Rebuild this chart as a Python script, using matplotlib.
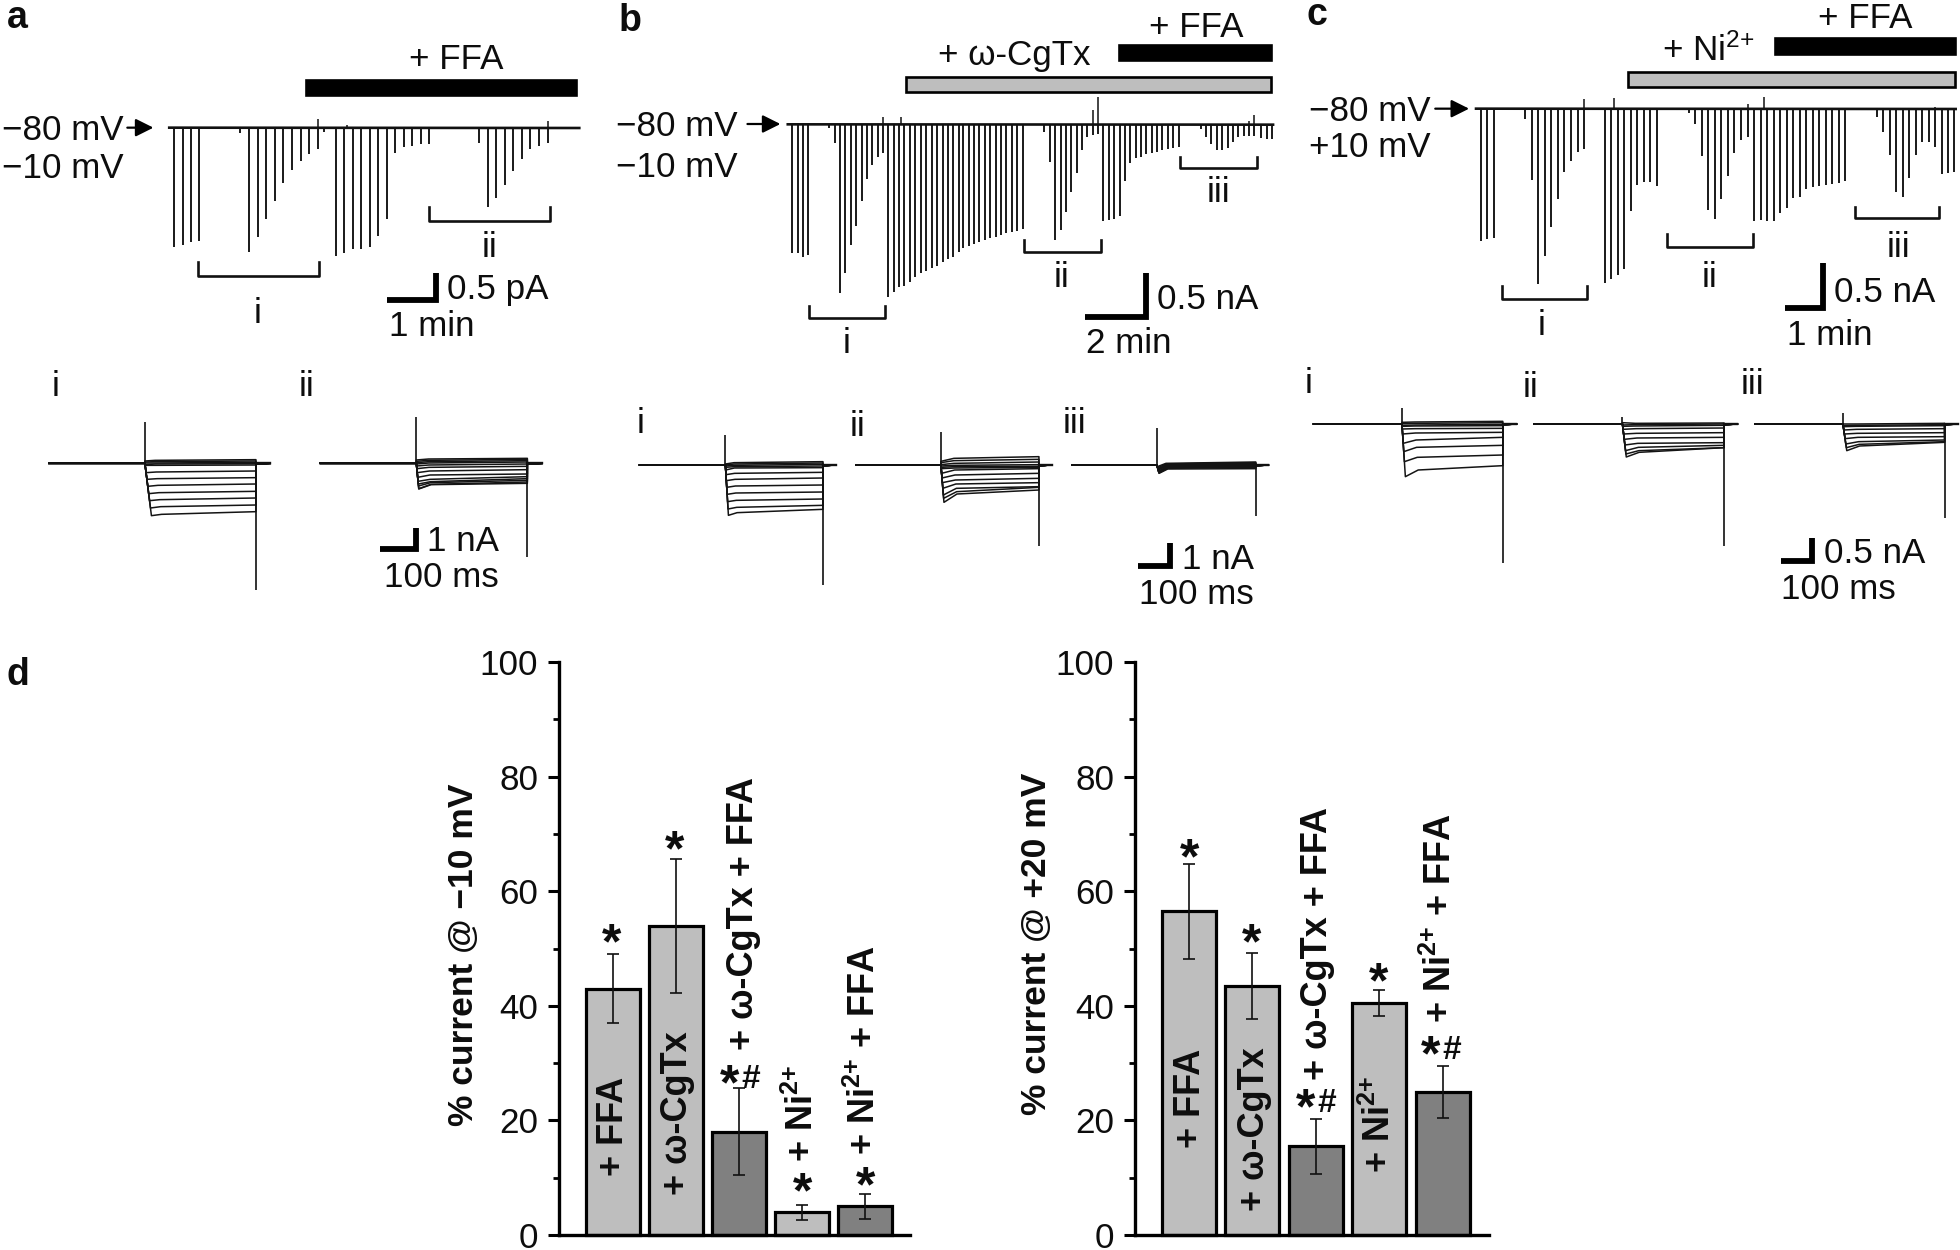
import matplotlib
matplotlib.use("Agg")
import matplotlib.pyplot as plt
from matplotlib.patches import Rectangle
from matplotlib.ticker import MultipleLocator

plt.rcParams['font.family'] = ['Liberation Sans', 'DejaVu Sans']
plt.rcParams['mathtext.fontset'] = 'custom'
plt.rcParams['mathtext.rm'] = 'Liberation Sans'
plt.rcParams['mathtext.bf'] = 'Liberation Sans:bold'
plt.rcParams['mathtext.default'] = 'regular'

# ---------- data ----------
# bar charts (panel d)
conditions = ['+ FFA', '+ ω-CgTx', '+ ω-CgTx + FFA', '+ Ni$^{2{+}}$', '+ Ni$^{2{+}}$ + FFA']
m10_mean = [43, 54, 18, 4, 5]
m10_err = [6, 11.7, 7.6, 1.3, 2.2]
p20_mean = [56.5, 43.5, 15.5, 40.5, 25]
p20_err = [8.3, 5.8, 4.8, 2.2, 4.5]
m10_colors = ['#BEBEBE', '#BEBEBE', '#808080', '#BEBEBE', '#808080']
m10_hash = [False, False, True, False, False]
p20_hash = [False, False, True, False, True]

# time courses: sweep time, trough of the current (raw read-out units)
a_t = [440, 462, 483, 504, 608, 630, 652, 673, 695, 716, 738, 760, 781, 803, 820, 849, 871, 892, 914, 936, 957, 978,
       1000, 1021, 1043, 1065, 1086, 1212, 1234, 1255, 1277, 1298, 1320, 1341, 1363, 1385]
a_i = [742, 735, 727, 723, 398, 757, 710, 657, 602, 550, 510, 482, 463, 447, 395, 767, 758, 748, 748, 740, 708, 658,
       459, 440, 437, 432, 432, 428, 620, 595, 555, 512, 476, 447, 437, 428]
a_up_t = [803, 878, 1385]
a_up_i = [358, 375, 362]

b_t = [443, 456, 468, 480, 528, 541, 553, 566, 578, 590, 603, 615, 628, 640, 652, 665, 677, 690, 702, 715, 727, 740,
       752, 765, 777, 790, 802, 815, 827, 838, 850, 863, 875, 888, 900, 912, 925, 937, 950, 962, 975, 1024, 1037,
       1049, 1062, 1074, 1087, 1099, 1111, 1123, 1136, 1148, 1161, 1173, 1186, 1198, 1210, 1222, 1235, 1247, 1260,
       1272, 1285, 1297, 1310, 1322, 1335, 1385, 1397, 1410, 1422, 1435, 1447, 1459, 1472, 1484, 1497, 1509, 1525,
       1537, 1550]
b_i = [760, 758, 770, 765, 385, 428, 878, 818, 735, 677, 603, 538, 495, 470, 458, 890, 876, 860, 858, 845, 832, 820,
       812, 805, 797, 785, 778, 770, 755, 745, 738, 733, 725, 720, 715, 710, 705, 700, 697, 692, 688, 397, 487,
       720, 690, 635, 575, 518, 450, 412, 405, 403, 662, 660, 658, 648, 542, 490, 475, 470, 462,
       458, 455, 450, 447, 443, 442, 388, 410, 432, 450, 450, 445, 425, 412, 408, 408, 408, 415,
       417, 418]
b_up_t = [652, 694, 1136, 1148, 1497, 1509]
b_up_i = [350, 352, 330, 292, 362, 345]

c_t = [463, 478, 493, 566, 580, 596, 611, 626, 641, 656, 671, 686, 701, 749, 764, 779, 794, 809, 824, 839, 854, 869,
       943, 958, 973, 988, 1003, 1018, 1033, 1048, 1063, 1078, 1093, 1108, 1123, 1138, 1153, 1168, 1183, 1198, 1213,
       1228, 1243, 1258, 1273, 1288, 1303, 1377, 1391, 1406, 1421, 1436, 1451, 1466, 1481, 1496, 1511, 1526, 1540, 1554]
c_i = [723, 718, 713, 358, 540, 853, 768, 680, 598, 515, 483, 456, 448, 848, 838, 825, 806, 633, 555, 545, 545, 558,
       338, 372, 468, 630, 658, 597, 528, 458, 420, 410, 664, 660, 662, 662, 640, 625, 595, 590, 566,
       560, 558, 556, 552, 550, 543, 350, 396, 465, 575, 592, 535, 465, 425, 426, 440, 522, 520, 515]
c_up_t = [701, 771, 1078, 1115, 1511]
c_up_i = [298, 295, 312, 292, 320]

# current families: (current at onset, shortly after onset, at end of step)
a1_levels = [(303, 301, 299), (306, 305, 303), (309, 309, 307), (314, 312, 311), (316, 316, 315), (338, 336, 333),
             (358, 356, 353), (379, 376, 372), (401, 398, 394), (422, 419, 414), (444, 440, 435), (467, 463, 455)]
a2_levels = [(300, 297, 295), (304, 301, 298), (308, 305, 302), (312, 309, 306), (318, 315, 312), (326, 322, 319),
             (338, 333, 329), (352, 345, 342), (364, 358, 350), (372, 365, 356), (378, 368, 361), (386, 373, 366),
             (387, 374, 370)]
b1_levels = [(222, 218, 215), (225, 222, 219), (228, 226, 223), (232, 230, 228), (240, 234, 233), (254, 250, 247),
             (272, 268, 264), (292, 288, 285), (313, 309, 306), (335, 331, 327), (357, 352, 346), (376, 368, 358)]
b2_levels = [(214, 205, 200), (218, 212, 208), (224, 220, 216), (228, 226, 224), (232, 230, 229), (236, 234, 232),
             (250, 240, 236), (264, 255, 250), (278, 270, 265), (295, 282, 278), (315, 295, 290), (325, 305, 292),
             (337, 312, 300)]
b3_levels = [(230, 220, 216), (233, 222, 218), (236, 224, 220), (238, 226, 222), (240, 228, 224), (243, 230, 226),
             (245, 232, 228), (247, 233, 230), (249, 235, 232), (250, 237, 236)]
c1_levels = [(187, 186, 184), (191, 190, 188), (196, 195, 193), (199, 198, 197), (207, 206, 205), (222, 219, 217),
             (250, 240, 232), (275, 262, 256), (305, 292, 285), (350, 330, 317)]
c2_levels = [(188, 190, 189), (195, 194, 192), (199, 198, 196), (208, 206, 204), (222, 220, 218), (238, 234, 232),
             (255, 250, 248), (272, 262, 256), (282, 272, 263), (291, 277, 263)]
c3_levels = [(192, 192, 190), (197, 196, 194), (200, 199, 197), (210, 208, 206), (222, 220, 218), (236, 232, 230),
             (252, 245, 240), (263, 253, 245), (272, 258, 247)]

# ---------- figure ----------
W, H = 1960, 1250
FS = 25.2
LETTER_FS = 27
fig = plt.figure(figsize=(W / 100, H / 100), dpi=100, facecolor='white')


def layer(x0, y0, sx, sy):
    """Transparent full-figure axes whose units are read-out units of one panel."""
    ax = fig.add_axes([0, 0, 1, 1])
    ax.set_xlim(-x0 * sx, (W - x0) * sx)
    ax.set_ylim((H - y0) * sy, -y0 * sy)
    ax.axis('off')
    ax.patch.set_alpha(0)
    return ax


def txt(ax, x, y, s, ha='left', weight='normal', size=FS):
    ax.text(x, y, s, ha=ha, va='baseline', fontsize=size, fontweight=weight, color='#0d0d0d')


def sweeps(ax, t, i, base, t_up, i_up, x0, x1):
    ax.vlines(t, base, i, color='#111111', lw=1.35)
    ax.vlines(t_up, base, i_up, color='#111111', lw=1.1)
    ax.plot([x0, x1], [base, base + 1], color='#111111', lw=1.9)


def bracket(ax, x0, x1, top, bottom):
    ax.plot([x0, x0, x1, x1], [top, bottom, bottom, top], color='#111111', lw=1.9, solid_joinstyle='round')


def scalebar(ax, x0, x1, y, top, lw=4.2):
    ax.plot([x0, x1, x1], [y, y, top], color='black', lw=lw, solid_joinstyle='miter', solid_capstyle='butt')


def drug_bar(ax, x0, x1, y0, y1, color):
    ax.add_patch(Rectangle((x0, y0), x1 - x0, y1 - y0, facecolor=color, edgecolor='black', lw=1.9))


def arrow(ax, x0, x1, y):
    ax.annotate('', xy=(x1, y), xytext=(x0, y),
                arrowprops=dict(arrowstyle='-|>', mutation_scale=27, lw=1.6, color='black',
                                shrinkA=0, shrinkB=0))


def family(ax, x_start, x_on, x_off, x_end, base, up, down, levels, dx, knee_dx):
    deepest = max(lv[0] for lv in levels)
    for onset, knee, end in levels:
        frac = max(onset - base, 0) / (deepest - base)
        x_peak = x_on + dx * frac
        ax.plot([x_start, x_on, x_peak, x_peak + knee_dx, x_off, x_off, x_end],
                [base, base, onset, knee, end, base + 2, base],
                color='#141414', lw=1.1, solid_joinstyle='round')
    ax.plot([x_start, x_on], [base, base], color='#111111', lw=1.4)
    ax.plot([x_off, x_end], [base, base], color='#111111', lw=1.7)
    ax.vlines(x_on, base, up, color='#111111', lw=1.2)
    ax.vlines(x_off, base, down, color='#111111', lw=1.2)


# ---------- panel a ----------
A = layer(0, 0, 1568 / 620, 3)
txt(A, 18, 85, 'a', weight='bold', size=LETTER_FS)
txt(A, 5, 420, '−80 mV')
txt(A, 5, 533, '−10 mV')
arrow(A, 322, 388, 383)
txt(A, 1035, 208, '+ FFA')
drug_bar(A, 775, 1456, 239, 284, 'black')
sweeps(A, a_t, a_i, 383, a_up_t, a_up_i, 428, 1465)
bracket(A, 500, 806, 787, 829)
bracket(A, 1084, 1391, 622, 663)
txt(A, 652, 968, 'i', ha='center')
txt(A, 1237, 770, 'ii', ha='center')
scalebar(A, 978, 1102, 899, 820)
txt(A, 1130, 897, '0.5 pA')
txt(A, 985, 1008, '1 min')

# ---------- panel b ----------
B = layer(600, 0, 1568 / 680, 3)
txt(B, 43, 92, 'b', weight='bold', size=LETTER_FS)
txt(B, 37, 407, '−80 mV')
txt(B, 37, 532, '−10 mV')
arrow(B, 340, 416, 372)
txt(B, 780, 195, '+ ω-CgTx')
txt(B, 1265, 110, '+ FFA')
drug_bar(B, 705, 1548, 232, 275, '#BEBEBE')
drug_bar(B, 1197, 1548, 136, 181, 'black')
sweeps(B, b_t, b_i, 373, b_up_t, b_up_i, 433, 1552)
bracket(B, 482, 657, 918, 953)
bracket(B, 978, 1155, 720, 757)
bracket(B, 1338, 1515, 470, 505)
txt(B, 568, 1060, 'i', ha='center')
txt(B, 1065, 860, 'ii', ha='center')
txt(B, 1425, 605, 'iii', ha='center')
scalebar(B, 1118, 1259, 951, 820)
txt(B, 1285, 928, '0.5 nA')
txt(B, 1120, 1060, '2 min')

# ---------- panel c ----------
C = layer(1280, 0, 1568 / 680, 3)
txt(C, 60, 75, 'c', weight='bold', size=LETTER_FS)
txt(C, 68, 363, '−80 mV')
txt(C, 68, 470, '+10 mV')
arrow(C, 358, 436, 326)
txt(C, 880, 182, '+ Ni$^{2{+}}$')
txt(C, 1240, 85, '+ FFA')
drug_bar(C, 803, 1556, 217, 262, '#BEBEBE')
drug_bar(C, 1142, 1556, 113, 161, 'black')
sweeps(C, c_t, c_i, 326, c_up_t, c_up_i, 452, 1558)
bracket(C, 513, 708, 858, 897)
bracket(C, 892, 1090, 703, 740)
bracket(C, 1325, 1520, 620, 654)
txt(C, 602, 1005, 'i', ha='center')
txt(C, 990, 860, 'ii', ha='center')
txt(C, 1425, 770, 'iii', ha='center')
scalebar(C, 1165, 1252, 923, 790)
txt(C, 1278, 905, '0.5 nA')
txt(C, 1170, 1035, '1 min')

# ---------- current families of panel a ----------
F1 = layer(0, 360, 1568 / 640, 3)
txt(F1, 135, 107, 'i', ha='center')
txt(F1, 752, 107, 'ii', ha='center')
family(F1, 120, 355, 627, 662, 310, 187, 690, a1_levels, 16, 25)
family(F1, 785, 1020, 1292, 1328, 310, 172, 590, a2_levels, 6, 30)
scalebar(F1, 932, 1019, 567, 505)
txt(F1, 1045, 572, '1 nA')
txt(F1, 940, 682, '100 ms')

# ---------- current families of panel b ----------
F2 = layer(620, 390, 1568 / 680, 3)
txt(F2, 47, 128, 'i', ha='center')
txt(F2, 548, 137, 'ii', ha='center')
txt(F2, 1047, 130, 'iii', ha='center')
family(F2, 45, 243, 468, 497, 225, 135, 585, b1_levels, 7, 20)
family(F2, 545, 740, 966, 995, 225, 125, 468, b2_levels, 7, 30)
family(F2, 1042, 1238, 1466, 1495, 225, 115, 377, b3_levels, 5, 20)
scalebar(F2, 1195, 1268, 529, 458)
txt(F2, 1295, 537, '1 nA')
txt(F2, 1197, 643, '100 ms')

# ---------- current families of panel c ----------
F3 = layer(1290, 360, 1568 / 670, 3)
txt(F3, 43, 100, 'i', ha='center')
txt(F3, 563, 110, 'ii', ha='center')
txt(F3, 1082, 103, 'iii', ha='center')
family(F3, 55, 262, 498, 530, 192, 145, 610, c1_levels, 8, 30)
family(F3, 572, 778, 1016, 1047, 192, 170, 558, c2_levels, 9, 30)
family(F3, 1088, 1294, 1532, 1563, 192, 160, 475, c3_levels, 9, 30)
scalebar(F3, 1148, 1222, 604, 535)
txt(F3, 1250, 610, '0.5 nA')
txt(F3, 1148, 718, '100 ms')

# ---------- panel d ----------


def bar_axes(left, right, first, step, means, errs, colors):
    ax = fig.add_axes([left / W, 1 - 1235 / H, (right - left) / W, (1235 - 662) / H])
    ax.patch.set_alpha(0)
    ax.set_xlim((left - first) / step, (right - first) / step)
    ax.set_ylim(0, 100)
    xs = list(range(len(means)))
    ax.bar(xs, means, width=54 / step, color=colors, edgecolor='black', linewidth=2.3, zorder=2, clip_on=False)
    ax.errorbar(xs, means, yerr=errs, fmt='none', ecolor='#111111', elinewidth=1.2, capsize=4.3, capthick=1.2, zorder=3)
    for s in ('top', 'right'):
        ax.spines[s].set_visible(False)
    for s in ('left', 'bottom'):
        ax.spines[s].set_linewidth(2.4)
    ax.set_xticks([])
    ax.yaxis.set_major_locator(MultipleLocator(20))
    ax.yaxis.set_minor_locator(MultipleLocator(10))
    ax.tick_params(axis='y', which='major', length=8, width=2.2, labelsize=FS, pad=7, labelcolor='#0d0d0d')
    ax.tick_params(axis='y', which='minor', length=4.5, width=2.0)
    return ax


ax1 = bar_axes(559, 910, 613, 63, m10_mean, m10_err, m10_colors)
ax2 = bar_axes(1135, 1489, 1188.5, 63.6, p20_mean, p20_err, m10_colors)

P = layer(0, 0, 1, 1)
P.set_zorder(10)
txt(P, 6, 685, 'd', weight='bold', size=LETTER_FS)


def rot(x, y, s, size=25.5):
    P.text(x, y, s, rotation=90, ha='center', va='center', fontsize=size, fontweight='bold', color='#0d0d0d')


def bold(s):
    return s.replace('$^{2{+}}$', r'$\mathbf{^{2{+}}}$')


rot(463, 955, '% current @ −10 mV')
rot(1036.5, 944, '% current @ +20 mV')

for xy, s in zip([(613, 1126), (677, 1113), (743, 914), (803, 1113), (864.5, 1050)], conditions):
    rot(xy[0], xy[1], bold(s), size=26)
for xy, s in zip([(1190, 1098), (1254, 1129), (1317, 943), (1380, 1124), (1441, 918)], conditions):
    rot(xy[0], xy[1], bold(s), size=26)


def mark(x, y, with_hash):
    star_x = x - 11 if with_hash else x
    P.text(star_x, y + 23, '*', ha='center', va='baseline', fontsize=36, fontweight='bold', color='#0d0d0d')
    if with_hash:
        P.text(x + 10, y + 12, '#', ha='center', va='baseline', fontsize=24, fontweight='bold', color='#0d0d0d')


for xy, h in zip([(612, 935), (675, 842), (741, 1076), (803, 1184), (865.5, 1178)], m10_hash):
    mark(xy[0], xy[1], h)
for xy, h in zip([(1190, 850), (1252, 935), (1317, 1100), (1379, 974), (1442, 1047)], p20_hash):
    mark(xy[0], xy[1], h)

fig.savefig('out.png', dpi=100, facecolor='white')
